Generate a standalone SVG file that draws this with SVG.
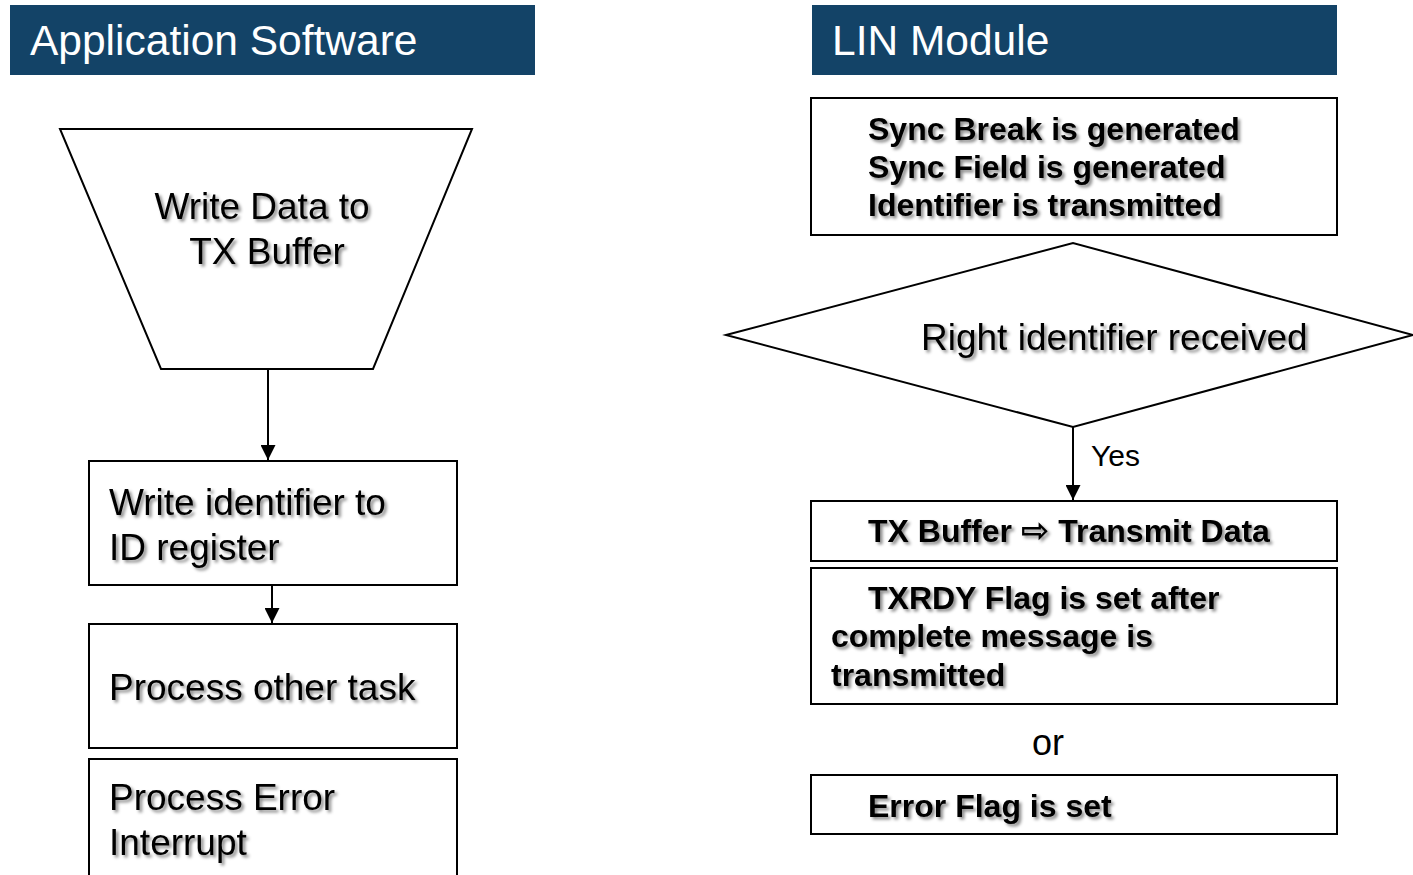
<svg xmlns="http://www.w3.org/2000/svg" width="1413" height="875" viewBox="0 0 1413 875">
  <defs>
    <filter id="shadow" x="-5%" y="-20%" width="115%" height="150%">
      <feDropShadow dx="2.5" dy="2.5" stdDeviation="1.5" flood-color="#000" flood-opacity="0.45"/>
    </filter>
    <marker id="arrow" viewBox="0 0 15 15" refX="15" refY="7.5" markerWidth="15" markerHeight="15" markerUnits="userSpaceOnUse" orient="auto">
      <path d="M0,0 L15,7.5 L0,15 Z" fill="#000"/>
    </marker>
  </defs>
  <style>
    .hdr { fill: #134367; }
    .hdr-t { font-family: "Liberation Sans", Arial, sans-serif; font-size: 42.5px; fill: #fff; }
    .shape { fill: #fff; stroke: #000; stroke-width: 2; }
    .t { font-family: "Liberation Sans", Arial, sans-serif; font-size: 37px; fill: #000; filter: url(#shadow); }
    .b { font-family: "Liberation Sans", Arial, sans-serif; font-size: 32px; font-weight: bold; fill: #000; filter: url(#shadow); }
    .sym { font-family: "DejaVu Sans", sans-serif; font-weight: bold; font-size: 34px; }
    .plain { font-family: "Liberation Sans", Arial, sans-serif; fill: #000; }
    .conn line { stroke: #000; stroke-width: 2; marker-end: url(#arrow); }
  </style>
  <rect width="1413" height="875" fill="#fff"/>

  <!-- column headers -->
  <g id="hdr-app">
    <rect class="hdr" x="10" y="5" width="525" height="70"/>
    <text class="hdr-t" x="30" y="55">Application Software</text>
  </g>
  <g id="hdr-lin">
    <rect class="hdr" x="812" y="5" width="525" height="70"/>
    <text class="hdr-t" x="832" y="55">LIN Module</text>
  </g>

  <!-- application software flow -->
  <g id="write-data">
    <polygon class="shape" points="60,129 472,129 373,369 161,369"/>
    <text class="t" x="262" y="219" text-anchor="middle">Write Data to</text>
    <text class="t" x="267" y="264" text-anchor="middle">TX Buffer</text>
  </g>
  <g id="write-id">
    <rect class="shape" x="89" y="461" width="368" height="124"/>
    <text class="t" x="109" y="515">Write identifier to</text>
    <text class="t" x="109" y="560">ID register</text>
  </g>
  <g id="other-task">
    <rect class="shape" x="89" y="624" width="368" height="124"/>
    <text class="t" x="109" y="700">Process other task</text>
  </g>
  <g id="error-int">
    <rect class="shape" x="89" y="759" width="368" height="130"/>
    <text class="t" x="109" y="810">Process Error</text>
    <text class="t" x="109" y="855">Interrupt</text>
  </g>

  <!-- LIN module flow -->
  <g id="header-tx">
    <rect class="shape" x="811" y="98" width="526" height="137"/>
    <text class="b" x="868" y="140">Sync Break is generated</text>
    <text class="b" x="868" y="178">Sync Field is generated</text>
    <text class="b" x="868" y="216">Identifier is transmitted</text>
  </g>
  <g id="id-check">
    <polygon class="shape" points="726,335 1073,243 1413,335 1073,427"/>
    <text class="t" x="921" y="350">Right identifier received</text>
  </g>
  <g id="tx-data">
    <rect class="shape" x="811" y="501" width="526" height="60"/>
    <text class="b" x="868" y="542">TX Buffer <tspan class="sym">⇨</tspan> Transmit Data</text>
  </g>
  <g id="txrdy">
    <rect class="shape" x="811" y="568" width="526" height="136"/>
    <text class="b" x="868" y="609">TXRDY Flag is set after</text>
    <text class="b" x="831" y="647">complete message is</text>
    <text class="b" x="831" y="686">transmitted</text>
  </g>
  <g id="or-label">
    <text class="plain" x="1048" y="755" font-size="36" text-anchor="middle">or</text>
  </g>
  <g id="error-flag">
    <rect class="shape" x="811" y="775" width="526" height="59"/>
    <text class="b" x="868" y="817">Error Flag is set</text>
  </g>

  <!-- connectors -->
  <g id="connectors" class="conn">
    <line x1="268" y1="369" x2="268" y2="460"/>
    <line x1="272" y1="585" x2="272" y2="623"/>
    <line x1="1073" y1="427" x2="1073" y2="500"/>
    <text class="plain" x="1091" y="466" font-size="30">Yes</text>
  </g>
</svg>
